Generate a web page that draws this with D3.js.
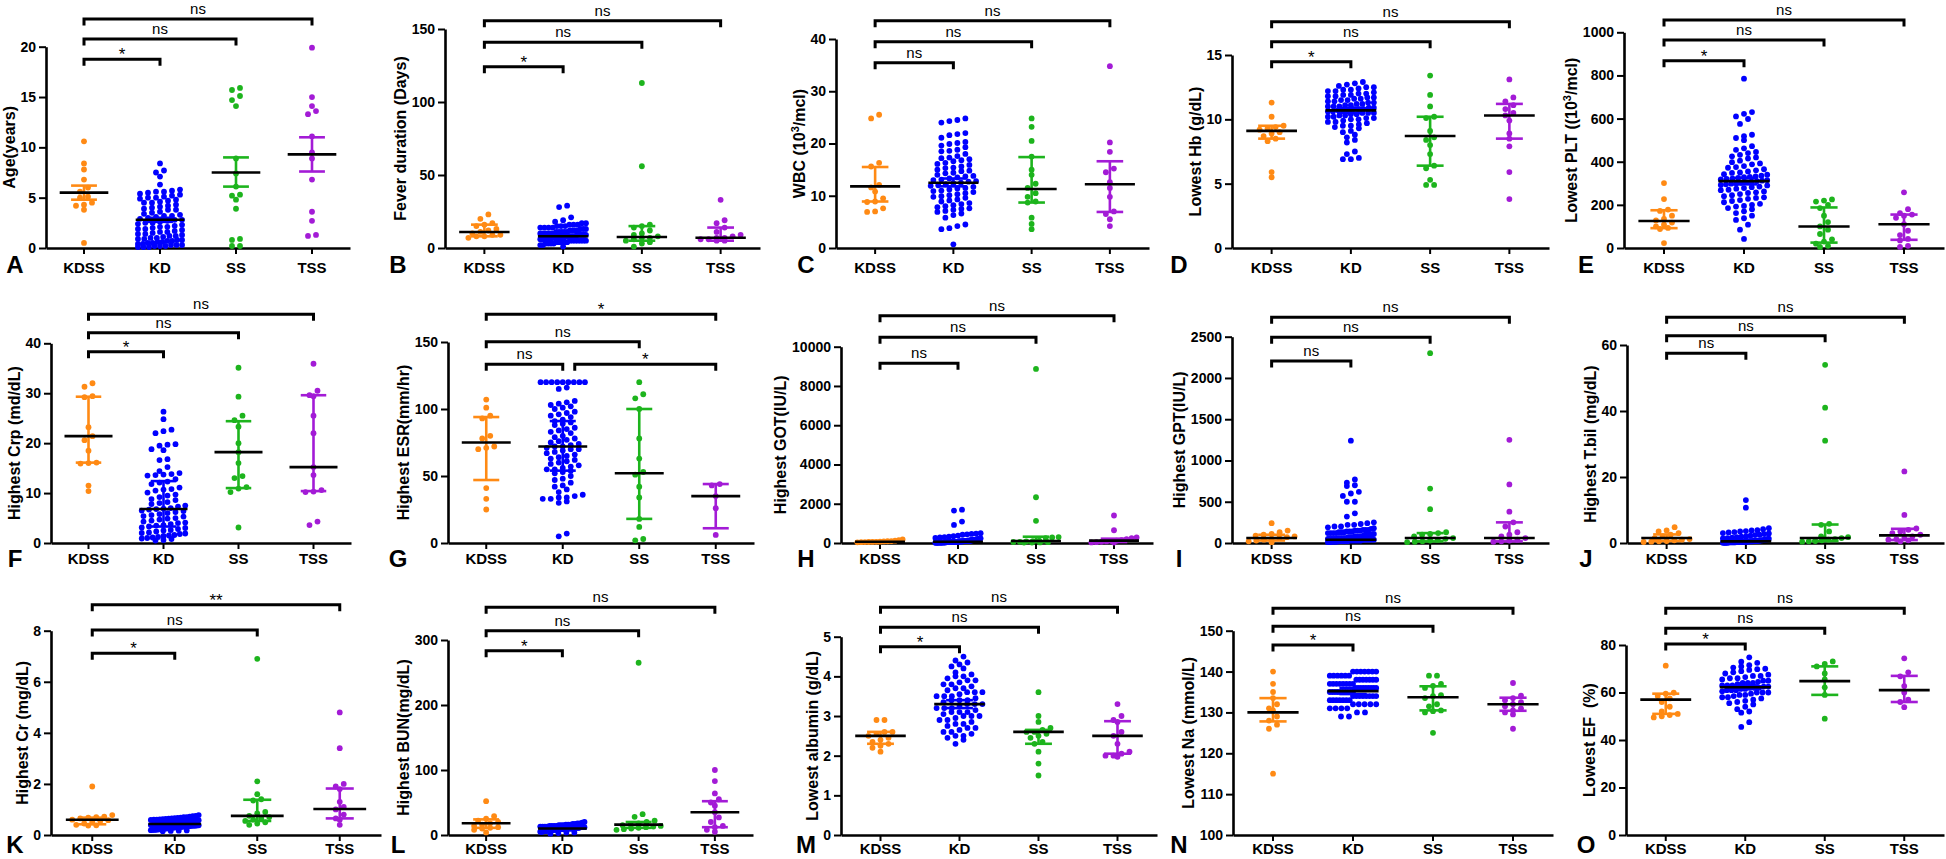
<!DOCTYPE html>
<html><head><meta charset="utf-8">
<script src="https://cdn.jsdelivr.net/npm/d3@7"></script>
<style>
body{margin:0;background:#fff}
svg{display:block}
text{font-family:"Liberation Sans",Arial,Helvetica,sans-serif}
</style>
</head><body>
<svg id="chart" width="1946" height="859"></svg>
<script>
// ---------- categories & colours ----------
const groups = ["KDSS","KD","SS","TSS"];
const groupColors = ["#FF8A14","#0000FF","#1DB41D","#A31BD6"];
const panelIds = ["A","B","C","D","E","F","G","H","I","J","K","L","M","N","O"];
const yTitles = ["Age(years)","Fever duration (Days)","WBC (10^3^/mcl)","Lowest Hb (g/dL)","Lowest PLT ((10^3^/mcl)",
  "Highest Crp (md/dL)","Highest ESR(mm/hr)","Highest GOT(IU/L)","Highest GPT(IU/L)","Highest T.bil (mg/dL)",
  "Highest Cr (mg/dL)","Highest BUN(mg/dL)","Lowest albumin (g/dL)","Lowest Na (mmol/L)","Lowest EF\u00a0\u00a0(%)"];

// ---------- tick labels ----------
const A_ticks=[0,5,10,15,20], B_ticks=[0,50,100,150], C_ticks=[0,10,20,30,40], D_ticks=[0,5,10,15], E_ticks=[0,200,400,600,800,1000];
const F_ticks=[0,10,20,30,40], G_ticks=[0,50,100,150], H_ticks=[0,2000,4000,6000,8000,10000], I_ticks=[0,500,1000,1500,2000,2500], J_ticks=[0,20,40,60];
const K_ticks=[0,2,4,6,8], L_ticks=[0,100,200,300], M_ticks=[0,1,2,3,4,5], N_ticks=[100,110,120,130,140,150], O_ticks=[0,20,40,60,80];

// ---------- values ----------
const A_KDSS=[10.6,8.4,7.8,6.8,6.0,5.6,5.1,5.0,4.5,4.3,4.2,3.8,0.5];
const A_KD=[8.4,7.7,7.5,7.1,6.3,5.8,5.7,5.6,5.6,5.5,5.4,5.3,5.2,5.1,5.0,5.0,4.9,4.8,4.7,4.6,4.5,4.5,4.3,4.2,4.1,4.0,3.9,3.8,3.8,3.6,3.5,3.4,3.3,3.2,3.2,3.1,3.0,2.9,2.8,2.8,2.7,2.6,2.5,2.5,2.4,2.3,2.2,2.1,2.1,2.0,1.9,1.9,1.8,1.7,1.6,1.6,1.5,1.4,1.4,1.3,1.2,1.2,1.1,1.0,1.0,0.9,0.9,0.8,0.8,0.7,0.7,0.6,0.6,0.5,0.5,0.4,0.4,0.3,0.3,0.3,0.2,0.2,0.2,0.1,0.1,0.1];
const A_SS=[15.9,15.7,15.1,14.7,14.1,8.9,7.4,6.1,5.3,5.2,4.8,3.9,0.9,0.8,0.2,0.2];
const A_TSS=[19.9,15.0,14.1,13.6,13.3,11.1,9.5,8.9,6.8,3.6,2.7,1.3,1.2];
const A_center=[5.5,2.8,7.5,9.3], A_lo=[4.8,2.6,6.1,7.6], A_hi=[6.2,3.0,9.0,11.0];

const B_KDSS=[23,20,17,16,15,13,12,11,10,9,9,8,8,7];
const B_KD=[29,28,21,19,18,17,17,16,16,16,15,15,15,14,14,14,14,13,13,13,12,12,12,12,11,11,11,11,11,10,10,10,10,10,10,9,9,9,9,9,9,9,8,8,8,8,8,8,8,8,7,7,7,7,7,7,7,7,7,6,6,6,6,6,6,6,6,5,5,5,5,5,5,5,4,4,4,4,4,3,3,3,3,2,2,1];
const B_SS=[113,56,16,15,14,12,10,9,8,7,7,6,5,4,3,1];
const B_TSS=[33,19,17,14,11,9,8,7,7,6,6,5,5];
const B_center=[11,8,7.5,7], B_lo=[8,7,5,5], B_hi=[16,9,15,14];

const C_KDSS=[25.5,24.8,16.3,15.6,12.1,11.6,10.8,9.5,8.9,8.8,7.6,7.0,6.9];
const C_KD=[24.8,24.5,24.3,24.0,22.0,21.8,21.6,21.1,20.3,20.1,19.9,19.6,19.3,18.8,18.6,18.5,18.0,17.6,17.3,17.2,17.0,16.8,16.6,16.3,16.1,15.9,15.6,15.4,15.3,15.0,14.8,14.7,14.4,14.3,14.0,13.8,13.7,13.5,13.3,13.1,13.0,12.8,12.7,12.5,12.4,12.2,12.0,11.9,11.7,11.5,11.4,11.2,11.0,10.9,10.7,10.5,10.3,10.1,9.9,9.8,9.6,9.3,9.1,8.9,8.6,8.4,8.2,8.0,7.8,7.6,7.5,7.3,7.1,6.9,6.6,6.3,5.8,4.5,4.2,3.8,3.6,0.7];
const C_SS=[24.8,23.2,20.5,17.5,15.0,14.0,12.3,11.5,10.5,9.8,8.9,8.7,5.8,4.6,3.6];
const C_TSS=[34.8,20.2,18.4,15.2,14.5,12.6,11.5,9.8,7.0,6.5,5.5,4.2];
const C_center=[11.8,12.5,11.3,12.2], C_lo=[8.9,11.8,8.7,6.9], C_hi=[15.5,13.3,17.4,16.6];

const D_KDSS=[11.3,10.2,9.5,9.4,9.3,9.2,9.0,8.9,8.7,8.5,8.3,5.9,5.5];
const D_KD=[12.9,12.8,12.7,12.6,12.5,12.5,12.4,12.3,12.3,12.2,12.2,12.1,12.0,12.0,11.9,11.9,11.8,11.8,11.7,11.7,11.6,11.6,11.5,11.5,11.4,11.4,11.3,11.3,11.2,11.2,11.1,11.1,11.0,11.0,11.0,10.9,10.9,10.8,10.8,10.8,10.7,10.7,10.7,10.6,10.6,10.5,10.5,10.5,10.4,10.4,10.3,10.3,10.2,10.2,10.1,10.1,10.0,10.0,9.9,9.8,9.8,9.7,9.6,9.5,9.5,9.4,9.3,9.1,9.0,8.8,8.6,8.4,8.2,7.5,7.3,7.0,6.9,6.9];
const D_SS=[13.4,11.9,11.0,10.2,10.1,9.1,8.6,8.4,8.0,7.3,6.4,6.2,5.3,4.9,4.9];
const D_TSS=[13.1,11.7,11.4,11.1,10.8,10.5,10.3,9.9,8.9,8.5,7.9,5.9,3.8];
const D_center=[9.1,10.7,8.7,10.3], D_lo=[8.5,10.5,6.4,8.5], D_hi=[9.5,10.9,10.2,11.2];

const E_KDSS=[301,227,178,172,150,135,128,118,108,100,93,88,23];
const E_KD=[785,630,622,610,598,575,525,518,510,500,472,462,455,445,440,432,425,420,415,405,398,392,388,380,375,372,365,360,355,350,348,342,340,335,332,330,328,325,322,320,318,315,312,310,308,305,302,300,298,295,292,290,285,282,278,275,270,268,262,258,255,250,245,240,235,232,228,222,218,212,205,200,195,192,185,180,170,162,150,138,130,108,85,42];
const E_SS=[225,220,215,200,185,150,120,100,85,65,40,30,20,10,5];
const E_TSS=[258,180,162,155,150,140,110,80,60,42,35,10,5];
const E_center=[125,310,100,110], E_lo=[92,295,25,38], E_hi=[175,325,188,155];

const F_KDSS=[32.0,31.3,29.4,29.2,23.2,21.4,20.6,18.5,16.1,16.0,15.9,11.5,10.4];
const F_KD=[26.3,24.8,22.7,22.4,22.0,19.8,19.7,19.5,18.8,18.6,16.8,16.6,15.2,14.4,14.0,13.8,13.7,13.6,13.5,12.8,12.3,12.1,11.8,11.1,10.8,10.7,10.5,10.1,9.7,9.5,9.2,8.8,8.6,8.2,8.0,7.8,7.5,7.3,7.0,6.9,6.8,6.7,6.5,6.4,6.2,6.0,5.8,5.6,5.4,5.3,5.0,4.9,4.7,4.5,4.3,4.1,4.0,3.8,3.6,3.5,3.3,3.1,3.0,2.8,2.6,2.5,2.3,2.1,2.0,1.9,1.8,1.6,1.5,1.4,1.2,1.1,1.0,0.9,0.8,0.6,0.5];
const F_SS=[35.1,29.3,25.5,24.6,23.3,20.0,18.2,16.0,13.4,13.0,11.2,10.9,10.2,3.1];
const F_TSS=[35.9,30.5,29.6,29.4,25.5,22.0,15.2,13.6,10.6,10.3,10.2,4.3,3.6];
const F_center=[21.4,6.8,18.2,15.2], F_lo=[16.1,3.3,11.0,10.4], F_hi=[29.3,12.4,24.4,29.6];

const G_KDSS=[107,101,95,93,80,78,72,71,70,41,33,25];
const G_KD=[120,120,120,120,120,120,120,120,120,116,115,106,105,104,103,102,101,100,98,97,96,95,94,92,91,90,89,88,86,85,84,83,82,80,79,78,77,76,75,74,73,72,72,71,70,70,69,68,67,66,65,64,63,62,61,60,59,58,57,56,55,55,54,53,52,50,48,47,45,43,42,40,38,36,35,34,34,33,33,31,30,7,5];
const G_SS=[120,111,108,100,78,63,53,51,42,34,18,12,3,2];
const G_TSS=[44,43,35,26,6];
const G_center=[75,72,52,35], G_lo=[47,54,18,11], G_hi=[94,91,100,44];

const H_KDSS=[180,150,120,100,90,80,70,60,55,50,45,40,35];
const H_KD=[1700,1650,1090,920,500,480,460,440,420,380,350,320,300,280,260,240,220,200,200,200,180,180,180,160,160,160,160,140,140,140,140,120,120,120,120,120,100,100,100,100,100,100,90,80,80,80,80,80,80,70,60,60,60,60,60,60,50,50,50,50,50,50,40,40,40,40,40,40,30,30,30,30,30,25,25,25,25,20,20,20,20,15,15,15];
const H_SS=[8870,2330,1130,300,280,250,120,100,80,60,50,40,30,25,20];
const H_TSS=[1400,650,280,250,200,150,120,100,80,60,40,30,20];
const H_center=[60,60,100,120], H_lo=[40,40,40,50], H_hi=[100,100,320,220];

const I_KDSS=[240,150,130,110,100,90,80,70,60,50,40,30,20,10];
const I_KD=[1240,770,730,700,690,620,600,570,500,500,360,320,250,240,230,220,220,200,200,190,180,170,160,160,160,150,150,150,140,140,140,130,130,130,120,120,120,120,110,100,100,100,100,100,90,80,80,80,80,80,70,70,70,70,60,60,60,60,60,60,50,50,50,50,50,50,40,40,40,40,40,40,30,30,30,30,30,30,20,20,20,20,20,15,15,15,10,10];
const I_SS=[2300,660,410,130,120,110,100,80,60,50,40,30,20,15,10];
const I_TSS=[1250,710,380,250,200,130,100,80,60,40,30,20,15];
const I_center=[60,40,60,60], I_lo=[30,25,20,20], I_hi=[100,60,120,250];

const J_KDSS=[4.8,3.8,3.5,3.0,2.5,2.0,1.5,1.2,1.0,0.8,0.6,0.5,0.4,0.3];
const J_KD=[13.0,10.7,4.5,4.2,3.9,3.8,3.6,3.5,3.3,3.2,3.0,2.9,2.7,2.5,2.4,2.2,2.0,1.9,1.8,1.6,1.5,1.4,1.3,1.2,1.1,1.0,1.0,0.9,0.9,0.8,0.8,0.8,0.7,0.7,0.7,0.6,0.6,0.6,0.6,0.5,0.5,0.5,0.5,0.5,0.4,0.4,0.4,0.4,0.4,0.4,0.3,0.3,0.3,0.3,0.3,0.3,0.3,0.2,0.2,0.2,0.2,0.2,0.2,0.2,0.2,0.1,0.1,0.1,0.1,0.1,0.1];
const J_SS=[54,41,31,5.8,5.5,3.5,2.0,1.8,1.5,1.2,1.0,0.8,0.6,0.5,0.4];
const J_TSS=[21.7,8.5,4.4,4.0,3.5,3.0,2.5,2.0,1.5,1.2,1.0,0.8,0.5];
const J_center=[1.5,0.5,1.5,2.3], J_lo=[0.6,0.3,0.6,0.9], J_hi=[2.6,0.9,5.6,4.3];

const K_KDSS=[1.9,0.78,0.72,0.70,0.68,0.65,0.60,0.58,0.55,0.50,0.45,0.40,0.38,0.37];
const K_KD=[0.78,0.75,0.74,0.72,0.70,0.70,0.68,0.67,0.66,0.65,0.64,0.63,0.62,0.61,0.60,0.60,0.59,0.58,0.57,0.56,0.55,0.55,0.54,0.53,0.52,0.51,0.50,0.50,0.49,0.48,0.47,0.46,0.45,0.45,0.44,0.43,0.42,0.42,0.41,0.40,0.40,0.39,0.38,0.37,0.36,0.36,0.35,0.34,0.33,0.33,0.32,0.31,0.30,0.30,0.29,0.28,0.27,0.26,0.25,0.25,0.24,0.23,0.22,0.21,0.20,0.20,0.19,0.18,0.17,0.16,0.15];
const K_SS=[6.9,2.1,1.6,1.4,1.35,0.9,0.85,0.75,0.7,0.65,0.6,0.55,0.5,0.45,0.4];
const K_TSS=[4.8,3.4,2.0,1.9,1.8,1.3,1.1,1.0,0.8,0.65,0.6,0.4];
const K_center=[0.6,0.43,0.75,1.02], K_lo=[0.42,0.35,0.55,0.65], K_hi=[0.68,0.52,1.38,1.82];

const L_KDSS=[52,29,25,22,20,18,16,14,12,11,10,8,4];
const L_KD=[20,19,18,18,17,17,16,16,16,15,15,15,14,14,14,14,13,13,13,13,12,12,12,12,12,11,11,11,11,11,11,10,10,10,10,10,10,10,9,9,9,9,9,9,9,8,8,8,8,8,8,7,7,7,7,7,6,6,6,6,5,5,5,4,4,3,2];
const L_SS=[265,32,28,22,20,18,16,15,14,13,12,11,10,9,8];
const L_TSS=[100,83,64,55,50,45,35,27,20,14,12,8,5];
const L_center=[18,10,16,35], L_lo=[11,8,11,12], L_hi=[24,12,20,52];

const M_KDSS=[2.9,2.9,2.6,2.6,2.55,2.5,2.45,2.4,2.35,2.3,2.25,2.2,2.1];
const M_KD=[4.5,4.4,4.35,4.3,4.25,4.2,4.1,4.05,4.0,4.0,3.95,3.9,3.9,3.85,3.8,3.8,3.75,3.7,3.7,3.65,3.6,3.6,3.6,3.55,3.5,3.5,3.5,3.45,3.4,3.4,3.4,3.35,3.3,3.3,3.3,3.25,3.2,3.2,3.2,3.15,3.1,3.1,3.1,3.05,3.0,3.0,3.0,2.95,2.9,2.9,2.85,2.8,2.8,2.75,2.7,2.7,2.65,2.6,2.6,2.55,2.5,2.5,2.45,2.4,2.3];
const M_SS=[3.6,3.0,2.85,2.7,2.65,2.6,2.6,2.55,2.5,2.45,2.35,2.3,2.1,1.8,1.5];
const M_TSS=[3.3,3.0,2.9,2.85,2.6,2.5,2.3,2.1,2.05,2.0,2.0,1.97];
const M_center=[2.5,3.3,2.6,2.5], M_lo=[2.3,3.2,2.3,2.05], M_hi=[2.6,3.4,2.65,2.87];

const N_KDSS=[140,137,135,133.5,132,131,130.5,129,128,127,126,115];
const N_KD=[140,140,140,140,140,140,140,139,139,139,139,139,139,138,138,138,138,138,138,138,137,137,137,137,137,137,137,137,136,136,136,136,136,136,136,136,136,135,135,135,135,135,135,135,135,135,135,134,134,134,134,134,134,134,134,133,133,133,133,133,133,133,132,132,132,132,132,131,131,131,131,130,130,129,129];
const N_SS=[139,139,137,136.5,136,134.2,134,133.5,132,131.5,130.5,130.3,130,125];
const N_TSS=[137.2,134.1,133.5,133,132.5,132,131.5,131,130.5,130,129.5,126];
const N_center=[130,135.2,133.7,132], N_lo=[127.8,134.5,130.5,130.4], N_hi=[133.5,136,136.4,133.6];

const O_KDSS=[71.3,59.9,59.5,58.5,57.5,56,54,52,51,50.5,50,49.5];
const O_KD=[74.8,73,72.5,71.5,71,70.5,70,69.8,69.5,69,68.5,68,67.5,67,67,66.5,66,66,65.5,65,65,64.5,64,64,64,63.5,63,63,63,62.5,62.5,62,62,62,61.5,61.5,61,61,61,60.5,60,60,60,59.5,59,59,58.5,58,58,57.5,57,56.5,56,55.5,55,54,53,52,51.5,47.5,45.5];
const O_SS=[73.1,72.0,71.0,68.0,65.5,62.2,59.0,49.0];
const O_TSS=[74.4,68.5,66.8,62.7,60.0,57.0,56.0,53.8];
const O_center=[57,62.2,64.8,61], O_lo=[51,61.5,59,56], O_hi=[59.5,63,71,67];

// ---------- significance brackets: [fromGroup, toGroup, label, level] ----------
const std_brackets=[[0,1,"*",0],[0,2,"ns",1],[0,3,"ns",2]];
const ns_brackets=[[0,1,"ns",0],[0,2,"ns",1],[0,3,"ns",2]];
const G_brackets=[[0,1,"ns",0],[1,3,"*",0],[0,2,"ns",1],[0,3,"*",2]];
const K_brackets=[[0,1,"*",0],[0,2,"ns",1],[0,3,"**",2]];

// ---------- panel table built from the arrays ----------
const panelData = [
 [A_ticks,[A_KDSS,A_KD,A_SS,A_TSS],A_center,A_lo,A_hi,std_brackets],
 [B_ticks,[B_KDSS,B_KD,B_SS,B_TSS],B_center,B_lo,B_hi,std_brackets],
 [C_ticks,[C_KDSS,C_KD,C_SS,C_TSS],C_center,C_lo,C_hi,ns_brackets],
 [D_ticks,[D_KDSS,D_KD,D_SS,D_TSS],D_center,D_lo,D_hi,std_brackets],
 [E_ticks,[E_KDSS,E_KD,E_SS,E_TSS],E_center,E_lo,E_hi,std_brackets],
 [F_ticks,[F_KDSS,F_KD,F_SS,F_TSS],F_center,F_lo,F_hi,std_brackets],
 [G_ticks,[G_KDSS,G_KD,G_SS,G_TSS],G_center,G_lo,G_hi,G_brackets],
 [H_ticks,[H_KDSS,H_KD,H_SS,H_TSS],H_center,H_lo,H_hi,ns_brackets],
 [I_ticks,[I_KDSS,I_KD,I_SS,I_TSS],I_center,I_lo,I_hi,ns_brackets],
 [J_ticks,[J_KDSS,J_KD,J_SS,J_TSS],J_center,J_lo,J_hi,ns_brackets],
 [K_ticks,[K_KDSS,K_KD,K_SS,K_TSS],K_center,K_lo,K_hi,K_brackets],
 [L_ticks,[L_KDSS,L_KD,L_SS,L_TSS],L_center,L_lo,L_hi,std_brackets],
 [M_ticks,[M_KDSS,M_KD,M_SS,M_TSS],M_center,M_lo,M_hi,std_brackets],
 [N_ticks,[N_KDSS,N_KD,N_SS,N_TSS],N_center,N_lo,N_hi,std_brackets],
 [O_ticks,[O_KDSS,O_KD,O_SS,O_TSS],O_center,O_lo,O_hi,std_brackets]
];

// ---------- layout (pixels) ----------
const layout = [
 {x:46,  w:304, top:46.7,  bot:248, br:[59.3,39,19]},
 {x:445, w:315, top:29,    bot:248, br:[66.7,42.3,20.7]},
 {x:836, w:313, top:39,    bot:248, br:[62.7,41.7,20.7]},
 {x:1232,w:317, top:55,    bot:248, br:[61.7,41.7,21.7]},
 {x:1624,w:320, top:32.3,  bot:248, br:[60.7,40,20]},
 {x:51,  w:300, top:343.3, bot:543, br:[351.7,332.7,314.3]},
 {x:448, w:306, top:342,   bot:543, br:[364.3,341.7,314.3]},
 {x:841, w:312, top:346.7, bot:543, br:[363.3,337.3,315.7]},
 {x:1232,w:317, top:336.7, bot:543, br:[361,337.3,317.3]},
 {x:1627,w:317, top:345,   bot:543, br:[353.3,335.7,317.3]},
 {x:51,  w:330, top:630.7, bot:835, br:[653.3,630,604.7]},
 {x:448, w:305, top:640,   bot:835, br:[650.7,630.7,607.3]},
 {x:841, w:316, top:636.7, bot:835, br:[646.7,627.3,607.3]},
 {x:1233,w:320, top:630.7, bot:835, br:[645,626.3,608.3]},
 {x:1626,w:318, top:645,   bot:835, br:[644,628.3,608.3]}
];
const catBaseline=[273,564,854];
const letterBaseline=[273,567,853];
const letterX=[15,398,806,1179,1586];

const svg = d3.select("#chart");
svg.append("rect").attr("width",1946).attr("height",859).attr("fill","#fff");

const R=2.9, STEP=8, BINH=5;

function swarm(vals, y, cx, maxW){
  const pts = vals.map(v=>({v, py:y(v)})).sort((a,b)=>a.py-b.py);
  const rows=[]; let cur=null;
  for(const p of pts){
    if(!cur || p.py-cur.start>BINH){cur={start:p.py,pts:[]};rows.push(cur);}
    cur.pts.push(p);
  }
  rows.forEach(r=>{
    const n=r.pts.length;
    const dx = n>1 ? Math.min(STEP, maxW/(n-1)) : 0;
    const order=r.pts.slice().sort((a,b)=>a.v-b.v);
    order.forEach((p,i)=>{ p.px = cx + (i-(n-1)/2)*dx; });
  });
  return pts;
}

function addTitle(g, str, x, yc){
  const t = g.append("text").attr("transform",`translate(${x},${yc}) rotate(-90)`)
    .attr("text-anchor","middle").attr("dy","0.35em")
    .attr("font-size",16).attr("font-weight","bold").attr("fill","#000");
  const parts = str.split("^");
  parts.forEach((s,i)=>{
    if(!s) return;
    if(i%2===1){
      t.append("tspan").attr("font-size",11).attr("baseline-shift","super").text(s);
    } else t.append("tspan").text(s);
  });
}

panelIds.forEach((pid, k)=>{
  const [ticks, data, center, lo, hi, brackets] = panelData[k];
  const L = layout[k];
  const row = Math.floor(k/5), col = k%5;
  const g = svg.append("g");
  const y = d3.scaleLinear().domain([ticks[0], ticks[ticks.length-1]]).range([L.bot, L.top]);
  const x = d3.scaleBand().domain(groups).range([L.x, L.x+L.w]);
  const cx = i => x(groups[i]) + x.bandwidth()/2;
  const bw = x.bandwidth();

  // y axis
  const ya = g.append("g").attr("transform",`translate(${L.x},0)`)
    .call(d3.axisLeft(y).tickValues(ticks).tickSize(7).tickSizeOuter(0).tickPadding(3).tickFormat(d3.format("d")));
  ya.select(".domain").attr("stroke","#000").attr("stroke-width",2.6);
  ya.selectAll(".tick line").attr("stroke","#000").attr("stroke-width",2);
  ya.selectAll(".tick text").attr("font-size",14).attr("font-weight","bold").attr("fill","#000")
    .attr("font-family",'"Liberation Sans",Arial,sans-serif');
  let maxW=0; ya.selectAll(".tick text").each(function(){maxW=Math.max(maxW,this.getBBox().width);});

  // x axis
  const xa = g.append("g").attr("transform",`translate(0,${L.bot})`)
    .call(d3.axisBottom(x).tickSize(6).tickSizeOuter(0));
  xa.select(".domain").attr("stroke","#000").attr("stroke-width",2.6);
  xa.selectAll(".tick line").attr("stroke","#000").attr("stroke-width",2);
  xa.selectAll(".tick text").attr("font-size",15).attr("font-weight","bold").attr("fill","#000")
    .attr("font-family",'"Liberation Sans",Arial,sans-serif')
    .attr("y",catBaseline[row]-L.bot).attr("dy",0);

  // y title
  addTitle(g, yTitles[k], L.x-10-maxW-11, (L.top+L.bot)/2);

  // panel letter
  g.append("text").attr("x",letterX[col]).attr("y",letterBaseline[row]).attr("text-anchor","middle")
    .attr("font-size",24).attr("font-weight","bold").attr("fill","#000").text(pid);

  // dots
  data.forEach((vals,i)=>{
    const pts = swarm(vals, y, cx(i), bw*0.58);
    g.append("g").selectAll("circle").data(pts).join("circle")
      .attr("cx",d=>d.px).attr("cy",d=>d.py).attr("r",R).attr("fill",groupColors[i]);
  });
  // error bars and centre lines
  groups.forEach((gr,i)=>{
    const c=cx(i), cap=bw*0.17;
    const eg=g.append("g").attr("stroke",groupColors[i]).attr("stroke-width",2.6).attr("fill","none");
    eg.append("line").attr("x1",c).attr("x2",c).attr("y1",y(lo[i])).attr("y2",y(hi[i]));
    eg.append("line").attr("x1",c-cap).attr("x2",c+cap).attr("y1",y(lo[i])).attr("y2",y(lo[i]));
    eg.append("line").attr("x1",c-cap).attr("x2",c+cap).attr("y1",y(hi[i])).attr("y2",y(hi[i]));
    g.append("line").attr("x1",c-bw*0.32).attr("x2",c+bw*0.32).attr("y1",y(center[i])).attr("y2",y(center[i]))
      .attr("stroke","#000").attr("stroke-width",2.6);
  });

  // brackets
  brackets.forEach(([a,b,lab,lev])=>{
    const yy=L.br[lev];
    const shared = brackets.some(o=>o[3]===lev && o[1]===a);
    const x1=cx(a)+(shared?12:0), x2=cx(b);
    g.append("path").attr("d",`M${x1},${yy+6.5}V${yy}H${x2}V${yy+6.5}`)
      .attr("fill","none").attr("stroke","#000").attr("stroke-width",3);
    const star = lab.indexOf("*")>=0;
    g.append("text").attr("x",(x1+x2)/2).attr("y",star?yy+1:yy-5).attr("text-anchor","middle")
      .attr("font-size",star?17:15).attr("fill","#000").text(lab);
  });
});
</script>
</body></html>
